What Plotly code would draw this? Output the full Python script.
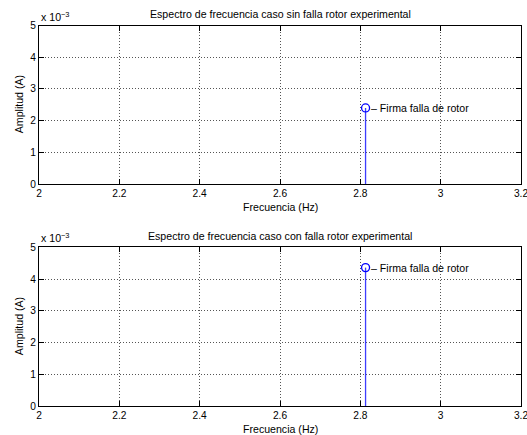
import plotly.graph_objects as go

freq_sin = [2.813]
amp_sin = [2.40e-3]
freq_con = [2.813]
amp_con = [4.36e-3]
titles = ["Espectro de frecuencia caso sin falla rotor experimental",
          "Espectro de frecuencia caso con falla rotor experimental"]
x_ticks = [2, 2.2, 2.4, 2.6, 2.8, 3, 3.2]
x_ticktext = ["2", "2.2", "2.4", "2.6", "2.8", "3", "3.2"]
y_ticks = [0, 1e-3, 2e-3, 3e-3, 4e-3, 5e-3]
y_ticktext = ["0", "1", "2", "3", "4", "5"]
label = "Firma falla de rotor"

W, H = 527, 435
FONT = "Liberation Sans, Arial, Helvetica, sans-serif"
FS = 10.6
fig = go.Figure()

xl, xr = 39 / W, 521 / W
doms = [[(H - 184) / H, (H - 25.5) / H], [(H - 406) / H, (H - 247.3) / H]]
data = [(freq_sin, amp_sin), (freq_con, amp_con)]

for i, ((fx, fy), dom) in enumerate(zip(data, doms)):
    xa = "x" if i == 0 else "x2"
    ya = "y" if i == 0 else "y2"
    sx, sy = [], []
    for a, b in zip(fx, fy):
        sx += [a, a, None]
        sy += [0, b, None]
    fig.add_trace(go.Scatter(x=sx, y=sy, mode="lines", line=dict(color="#3d3dff", width=1.3),
                             xaxis=xa, yaxis=ya, showlegend=False, hoverinfo="skip", cliponaxis=False))
    fig.add_trace(go.Scatter(x=fx, y=fy, mode="markers",
                             marker=dict(symbol="circle-open", size=8, color="#0000ff", line=dict(width=1.3)),
                             xaxis=xa, yaxis=ya, showlegend=False))
    axk = "" if i == 0 else "2"
    common = dict(ticks="inside", ticklen=5, tickcolor="black", mirror="allticks",
                  showline=True, linecolor="black", linewidth=1.2,
                  showgrid=True, gridcolor="#555555", griddash="1px,2px", gridwidth=1,
                  zeroline=False, automargin=False, ticklabeloverflow="allow",
                  tickfont=dict(size=10.2, color="black", family=FONT))
    fig.update_layout(**{
        "xaxis" + axk: dict(domain=[xl, xr], range=[2, 3.2], tickvals=x_ticks, ticktext=x_ticktext,
                            anchor=ya, **common),
        "yaxis" + axk: dict(domain=dom, range=[0, 5e-3], tickvals=y_ticks, ticktext=y_ticktext,
                            anchor=xa, **common),
    })
    fig.add_annotation(x=(xl + xr) / 2, y=dom[1], xref="paper", yref="paper", text=titles[i],
                       showarrow=False, xanchor="center", yanchor="bottom", yshift=3,
                       font=dict(size=FS, color="black", family=FONT))
    fig.add_annotation(x=(xl + xr) / 2, y=dom[0], xref="paper", yref="paper", text="Frecuencia (Hz)",
                       showarrow=False, xanchor="center", yanchor="top", yshift=-15,
                       font=dict(size=FS, color="black", family=FONT))
    fig.add_annotation(x=18.5 / W, y=(dom[0] + dom[1]) / 2, xref="paper", yref="paper", text="Amplitud (A)",
                       showarrow=False, textangle=-90, xanchor="center", yanchor="middle",
                       font=dict(size=FS, color="black", family=FONT))
    fig.add_annotation(x=xl, y=dom[1], xref="paper", yref="paper", text="x 10<sup>\u22123</sup>",
                       showarrow=False, xanchor="left", yanchor="bottom", yshift=1,
                       font=dict(size=FS, color="black", family=FONT))
    for a, b in zip(fx, fy):
        fig.add_annotation(x=a, y=b, xref=xa, yref=ya, text="\u2013 " + label, showarrow=False,
                           xanchor="left", yanchor="middle", xshift=3,
                           font=dict(size=FS, color="black", family=FONT))

fig.update_layout(width=W, height=H, margin=dict(l=0, r=0, t=0, b=0),
                  paper_bgcolor="white", plot_bgcolor="white", showlegend=False)
fig.write_html("out.html", config={"displayModeBar": False},
               post_script="document.body.style.margin='0';document.body.style.overflow='hidden';")
